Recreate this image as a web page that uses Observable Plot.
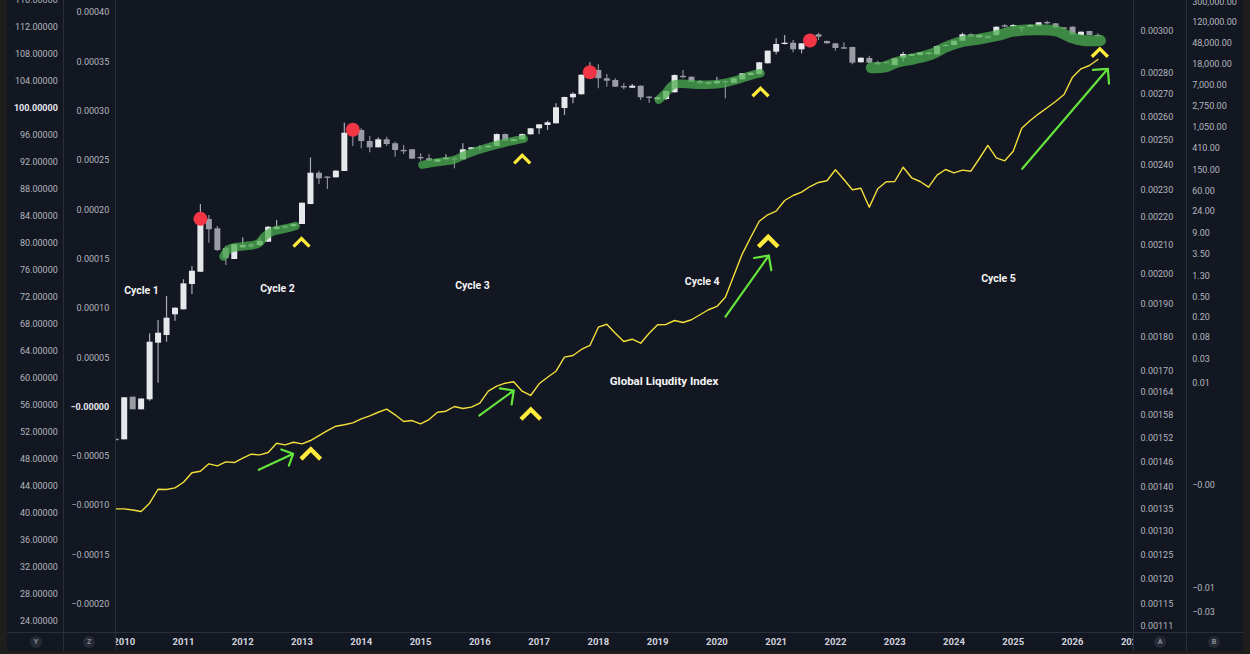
<!DOCTYPE html>
<html><head><meta charset="utf-8">
<script src="https://cdn.jsdelivr.net/npm/d3@7"></script>
<script src="https://cdn.jsdelivr.net/npm/@observablehq/plot@0.6"></script>
<style>
html,body{margin:0;padding:0;width:1250px;height:654px;overflow:hidden;background:#1f1e1c;font-family:Roboto,sans-serif}
.abs{position:absolute;top:0}
#frame{position:absolute;left:7px;top:0;width:1236px;height:651px;background:#131722}
.vline{position:absolute;top:0;width:1px;height:651px;background:#2a2e39}
.hline{position:absolute;left:7px;top:632px;width:1236px;height:1px;background:#2a2e39}
.btn{position:absolute;width:12px;height:12px;border-radius:50%;background:#262a34;color:#8b8f9a;font:bold 7px Roboto,sans-serif;line-height:12px;text-align:center}
svg{display:block;overflow:hidden}
</style></head><body>
<div id="frame"></div>
<div id="pY" class="abs" style="left:7px"></div>
<div id="pZ" class="abs" style="left:63px"></div>
<div id="main" class="abs" style="left:115px"></div>
<div id="pA" class="abs" style="left:1133px"></div>
<div id="pB" class="abs" style="left:1186px"></div>
<div class="vline" style="left:63px"></div>
<div class="vline" style="left:115px"></div>
<div class="vline" style="left:1133px"></div>
<div class="vline" style="left:1186px"></div>
<div class="hline"></div>
<div class="btn" style="left:30px;top:636px">Y</div>
<div class="btn" style="left:83px;top:636px">Z</div>
<div class="btn" style="left:1154px;top:636px">A</div>
<div class="btn" style="left:1208px;top:636px">B</div>
<script>
// ---------- data ----------
const periodStart = 2010 - 1/7;   // first candle / line period
const periodsPerYear = 7;

const candleOpen  = [50.95,50.87,57.19,55.32,56.80,65.19,66.33,69.39,70.13,73.88,75.70,83.51,82.13,79.21,77.59,79.32,79.76,79.66,80.15,82.03,82.47,82.47,82.77,85.73,90.37,89.80,89.69,90.62,96.99,96.70,95.07,94.13,95.32,94.73,93.75,93.84,92.70,92.51,91.99,92.36,92.50,92.36,93.84,94.15,94.13,94.33,96.10,95.07,95.32,96.06,96.95,97.44,97.69,99.96,101.54,101.99,104.84,105.59,104.36,104.11,103.20,102.96,103.26,101.65,101.25,101.29,102.28,104.72,104.59,103.96,103.85,103.62,103.96,103.70,104.21,104.84,104.99,106.58,108.30,109.44,109.63,108.65,109.54,110.87,109.88,109.54,108.95,108.99,106.73,107.36,106.73,106.80,106.33,107.41,107.70,107.81,107.96,107.91,109.14,109.29,109.93,110.87,110.43,110.67,110.77,112.20,112.05,111.95,112.00,112.15,112.70,112.50,111.90,112.00,110.77,111.36,110.80];
const candleHigh  = [51.00,57.10,57.19,56.92,66.58,68.55,72.10,70.45,74.58,76.55,85.73,84.10,82.47,79.51,79.76,80.80,79.95,80.70,82.47,83.36,82.62,82.92,85.93,92.62,90.67,89.85,90.77,97.78,97.73,96.95,95.81,95.62,95.71,94.96,94.47,93.89,93.25,93.10,92.40,93.10,92.70,94.73,94.18,94.47,94.47,96.18,96.18,95.37,96.18,97.00,97.60,98.07,100.65,101.64,102.30,104.92,106.73,106.43,104.99,104.36,103.62,103.51,103.29,101.68,101.59,102.55,104.92,105.59,104.62,104.11,103.96,104.59,104.03,104.40,105.15,105.22,106.78,108.48,110.28,110.77,110.03,109.59,110.87,111.11,109.96,109.59,109.69,109.03,107.44,107.70,106.96,106.92,107.36,108.30,107.99,108.25,108.25,109.22,109.36,109.96,111.11,111.02,110.85,110.70,112.03,112.40,112.40,112.00,112.40,112.70,112.89,112.55,111.93,112.03,111.29,111.39,111.02];
const candleLow   = [50.70,50.87,55.32,55.32,56.59,59.26,65.33,68.45,70.13,72.40,75.70,80.00,78.77,76.70,77.59,79.21,79.21,79.51,80.11,81.88,82.03,82.32,82.77,85.73,88.70,87.96,89.65,90.62,94.33,93.99,93.39,94.13,94.33,92.74,93.14,92.40,92.15,92.10,91.95,92.33,91.02,92.36,93.80,93.63,94.05,94.33,95.07,95.00,95.30,96.03,96.10,96.70,97.65,98.92,100.65,101.96,104.77,102.87,103.11,103.07,102.73,102.92,101.14,100.74,101.14,101.14,102.25,104.36,103.81,103.51,103.36,103.51,101.39,103.66,104.18,104.77,104.92,106.55,107.91,109.37,108.21,108.06,109.44,110.03,109.51,108.45,108.70,106.43,106.70,106.63,106.40,106.47,106.26,106.82,107.66,107.74,107.89,107.89,109.07,109.22,109.88,110.47,110.40,110.25,110.70,111.91,112.00,111.26,111.96,112.10,112.36,111.81,111.62,110.84,110.70,110.73,110.52];
const candleClose = [50.75,57.10,55.32,56.92,65.33,66.67,68.89,70.37,73.98,75.85,83.66,81.99,78.92,77.73,79.76,79.66,79.41,80.26,82.37,82.37,82.22,82.77,85.93,90.37,89.54,89.60,90.67,96.30,95.81,95.07,94.13,95.32,94.62,93.73,93.55,92.45,92.50,92.15,92.36,92.60,92.30,93.84,94.13,93.95,94.37,96.10,95.11,95.32,96.10,96.95,97.54,97.84,100.06,101.59,102.06,104.89,105.59,104.36,104.00,103.11,103.00,103.26,101.54,101.45,101.54,102.47,104.84,104.52,103.85,103.62,103.51,103.96,103.76,104.36,105.10,105.19,106.73,108.45,109.44,109.63,108.65,109.54,110.55,110.52,109.54,108.85,108.75,106.67,107.41,106.67,106.43,106.60,107.32,107.96,107.96,108.21,108.15,109.14,109.29,109.93,110.87,110.52,110.77,110.28,112.00,112.00,112.25,111.75,112.25,112.65,112.50,111.85,111.70,110.87,111.26,110.77,110.60];

const liquidity = [40.65,40.65,40.47,40.25,41.48,43.55,43.51,43.76,44.59,45.99,46.22,47.32,47.02,47.61,47.51,48.15,48.74,48.65,48.99,50.37,50.13,50.52,50.28,50.77,51.51,52.25,52.89,53.10,53.39,53.98,54.43,54.96,55.41,54.58,53.58,53.73,53.24,53.88,54.96,55.11,55.81,55.51,55.71,56.30,58.08,58.82,59.26,59.47,58.08,57.44,59.17,60.15,61.04,63.12,63.37,64.26,64.85,67.56,68.00,66.67,65.44,65.78,65.19,66.67,67.92,67.96,68.55,68.26,68.66,69.40,70.14,70.63,72.00,75.22,78.43,80.89,83.26,84.21,84.75,86.33,87.07,87.56,88.40,89.00,89.25,90.88,89.44,87.92,88.15,85.34,88.06,89.10,89.14,91.26,89.69,89.14,88.30,90.08,90.92,90.43,90.82,90.67,92.55,94.48,92.65,92.21,93.63,97.04,98.18,99.17,100.06,101.00,102.03,104.60,105.84,106.33,107.22];

const peakYears  = [2011.286, 2013.857, 2017.857, 2021.571];
const peakValues = [83.61, 96.80, 105.33, 110.03];

const bandYears = [
  [2011.675,2011.760,2011.895,2012.131,2012.266,2012.367,2012.502,2012.688,2012.890],
  [2015.028,2015.281,2015.561,2015.730,2015.956,2016.236,2016.462,2016.742],
  [2019.020,2019.133,2019.246,2019.386,2019.723,2020.061,2020.342,2020.567,2020.735],
  [2022.604,2022.816,2023.042,2023.322,2023.604,2023.886,2024.166,2024.448,2024.729,2025.009,2025.404,2025.741,2025.966,2026.190,2026.472]
];
const bandValues = [
  [78.03,79.07,79.44,79.66,79.96,80.99,81.73,82.11,82.55],
  [91.61,92.00,92.36,92.99,93.73,94.47,94.96,95.47],
  [101.25,102.22,103.36,103.62,103.47,103.62,104.21,104.84,105.19],
  [105.99,106.07,106.81,107.32,107.96,109.14,109.93,110.28,110.77,111.41,111.62,111.41,110.52,110.03,110.03]
];

const chevronYears  = [2012.991, 2016.715, 2020.736, 2026.461, 2013.148, 2016.860, 2020.866];
const chevronValues = [80.08, 92.43, 102.36, 108.21, 48.74, 54.65, 80.21];
const chevronLarge  = [false, false, false, false, true, true, true];

const arrowX1 = [2012.271, 2015.995, 2020.145, 2025.151];
const arrowY1 = [46.43, 54.48, 69.14, 91.02];
const arrowX2 = [2012.851, 2016.573, 2020.876, 2026.596];
const arrowY2 = [48.80, 58.18, 78.18, 105.84];

const cycleLabels = ["Cycle 1","Cycle 2","Cycle 3","Cycle 4","Cycle 5"];
const cycleYears  = [2010.292, 2012.587, 2015.877, 2019.752, 2024.751];
const cycleValues = [73.00, 73.24, 73.69, 74.28, 74.81];
const indexLabel = "Global Liqudity Index";
const indexLabelYear = 2019.108, indexLabelValue = 59.51;

const yearTicks = [2010,2011,2012,2013,2014,2015,2016,2017,2018,2019,2020,2021,2022,2023,2024,2025,2026,2027];
const yTicks = [116,112,108,104,100,96,92,88,84,80,76,72,68,64,60,56,52,48,44,40,36,32,28,24];
const zTicks = [0.0004,0.00035,0.0003,0.00025,0.0002,0.00015,0.0001,0.00005,0,-0.00005,-0.0001,-0.00015,-0.0002];
const aTicks = [0.003,0.0028,0.0027,0.0026,0.0025,0.0024,0.0023,0.0022,0.0021,0.002,0.0019,0.0018,0.0017,0.00164,0.00158,0.00152,0.00146,0.0014,0.00135,0.0013,0.00125,0.0012,0.00115,0.00111];
const bTicks = [300000,120000,48000,18000,7000,2750,1050,410,150,60,24,9,3.5,1.3,0.5,0.2,0.08,0.03,0.01,0,-0.01,-0.03];

// ---------- tables ----------
const candles = candleOpen.map((o, i) => ({
  x: periodStart + i / periodsPerYear, open: o, high: candleHigh[i], low: candleLow[i], close: candleClose[i],
  up: candleClose[i] >= o
}));
const liq = liquidity.map((v, i) => ({x: periodStart + i / periodsPerYear, y: v}));
const peaks = peakYears.map((x, i) => ({x, y: peakValues[i]}));
const bands = bandYears.map((xs, b) => xs.map((x, i) => ({x, y: bandValues[b][i]})));
const chevrons = chevronYears.map((x, i) => ({x, y: chevronValues[i], large: chevronLarge[i]}));
const arrows = arrowX1.map((x1, i) => ({x1, y1: arrowY1[i], x2: arrowX2[i], y2: arrowY2[i]}));
const cycles = cycleLabels.map((t, i) => ({x: cycleYears[i], y: cycleValues[i], t}));

const chevron = {
  draw(context, size) {
    const r = Math.sqrt(size / Math.PI);
    context.moveTo(-r, r / 2);
    context.lineTo(0, -r / 2);
    context.lineTo(r, r / 2);
  }
};

const H = 651, MB = 19;
const yDomain = [22.33, 115.956];
const xDomain = [2009.8532, 2027.0289];
const baseStyle = {fontFamily: "Roboto, sans-serif", fontSize: "9px", background: "transparent", overflow: "hidden"};

// ---------- main chart ----------
const bandWidths = [8.5, 8, 8.5, 11];
const main = Plot.plot({
  width: 1018, height: H, marginTop: 0, marginBottom: MB, marginLeft: 0, marginRight: 0,
  style: {...baseStyle, color: "#d1d4dc"},
  x: {domain: xDomain},
  y: {domain: yDomain, axis: null},
  marks: [
    Plot.axisX(yearTicks, {tickSize: 0, tickPadding: 6, tickFormat: d => String(d), fontWeight: "bold", fontSize: 9.5, fill: "#d1d4dc"}),
    Plot.ruleX(candles, {x: "x", y1: "low", y2: "high", stroke: d => d.up ? "#a9acb4" : "#8a8d95", strokeWidth: 1.2}),
    Plot.ruleX(candles, {x: "x", y1: "open", y2: "close", stroke: d => d.up ? "#e6e8ec" : "#9a9ca3", strokeWidth: 6}),
    ...bands.map((b, i) => Plot.line(b, {x: "x", y: "y", stroke: "#4caf50", strokeOpacity: 0.75, strokeWidth: bandWidths[i], strokeLinecap: "round", strokeLinejoin: "round", curve: "catmull-rom"})),
    Plot.line(liq, {x: "x", y: "y", stroke: "#f3df3c", strokeWidth: 1.4}),
    Plot.dot(peaks, {x: "x", y: "y", r: 7, fill: "#f23645"}),
    Plot.dot(chevrons.filter(d => !d.large), {x: "x", y: "y", symbol: chevron, r: 8, fill: "none", stroke: "#ffeb3b", strokeWidth: 3.3}),
    Plot.dot(chevrons.filter(d => d.large), {x: "x", y: "y", symbol: chevron, r: 9.8, fill: "none", stroke: "#ffeb3b", strokeWidth: 4.3}),
    Plot.arrow(arrows, {x1: "x1", y1: "y1", x2: "x2", y2: "y2", stroke: "#63e43c", strokeWidth: 2.2, headAngle: 90, headLength: 10.2}),
    Plot.text(cycles, {x: "x", y: "y", text: "t", fill: "#f4f4f4", fontSize: 10.5, fontWeight: "bold"}),
    Plot.text([indexLabel], {x: () => indexLabelYear, y: () => indexLabelValue, text: d => d, fill: "#f4f4f4", fontSize: 11.5, fontWeight: "bold"})
  ]
});
document.getElementById("main").append(main);

// ---------- side axes ----------
function sidePanel(id, width, scale, ticks, fmt, side, offset) {
  const opts = {
    width, height: H, marginTop: 0, marginBottom: MB,
    marginLeft: side === "left" ? offset : 0,
    marginRight: side === "right" ? width - offset : 0,
    style: {...baseStyle, color: "#b2b5be"},
    y: scale,
    marks: [Plot.axisY(ticks, {anchor: side === "left" ? "left" : "right", tickSize: 0, tickPadding: 0, tickFormat: fmt, fontSize: 9, fill: "#b2b5be"})]
  };
  const svg = Plot.plot(opts);
  document.getElementById(id).append(svg);
  return svg;
}
const fmtY = d => d.toFixed(5);
const fmtZ = d => (d <= 0 ? "\u2212" : "") + Math.abs(d).toFixed(5);
const fmtA = d => d.toFixed(5);
const fmtB = d => d <= 0 ? "\u2212" + Math.abs(d).toFixed(2) : d.toLocaleString("en-US", {minimumFractionDigits: 2, maximumFractionDigits: 2});

const sY = sidePanel("pY", 56, {domain: yDomain}, yTicks, fmtY, "left", 50.3);
const sZ = sidePanel("pZ", 52, {domain: [-0.0002287, 0.0004122]}, zTicks, fmtZ, "left", 45.7);
sidePanel("pA", 53, {type: "log", domain: [0.0010974, 0.00316]}, aTicks, fmtA, "right", 7);
sidePanel("pB", 57, {type: "symlog", constant: 0.0001, domain: [-0.0761, 322600]}, bTicks, fmtB, "right", 5.7);

for (const s of [sY, sZ]) {
  d3.select(s).selectAll("text")
    .filter(function () { return this.textContent === "100.00000" || this.textContent === "\u22120.00000"; })
    .attr("font-weight", "bold").attr("fill", "#e6e8ee");
}
</script>
</body></html>
